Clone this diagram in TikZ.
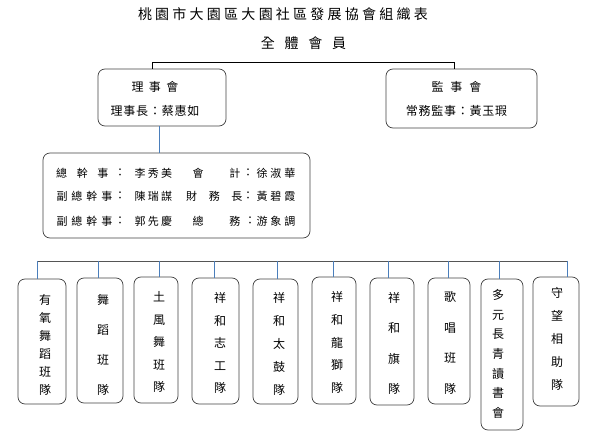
\documentclass[tikz,border=0pt]{standalone}
\usepackage{fontspec}
\setmainfont{Noto Sans CJK TC}
\makeatletter
\newcommand\spreadtxt[2]{\@tfor\spr@c:=#2\do{\spr@c\kern#1pt}\kern-#1pt}
\makeatother
\definecolor{conn}{HTML}{4A7EBB}
\definecolor{hl}{HTML}{555555}
\begin{document}
\begin{tikzpicture}[x=1pt,y=-1pt,
  box/.style={draw=black!75,line width=0.7pt,rounded corners=7pt,inner sep=0pt},
  vlab/.style={align=center,inner sep=0pt,font={\fontsize{12}{#1}\selectfont}},
  mtext/.style={inner sep=0pt,font={\fontsize{11}{13}\selectfont}},
  ttext/.style={inner sep=0pt,align=center,font={\fontsize{12}{24}\selectfont}},
  vline/.style={draw=conn,line width=0.7pt},
  hline/.style={draw=hl,line width=0.8pt},
  bline/.style={draw=black,line width=0.8pt}]
\useasboundingbox (0,0) rectangle (595,438);
% titles
\node[inner sep=0pt,font={\fontsize{14}{16}\selectfont}] (title) at (283,14) {\spreadtxt{3.25}{桃園市大園區大園社區發展協會組織表}};
\node[inner sep=0pt,font={\fontsize{14}{16}\selectfont}] (members) at (303.5,43) {\spreadtxt{9.7}{全體會員}};
% top boxes
\node[box,minimum width=128,minimum height=57] (lb) at (162,97.5) {};
\node[ttext] (lbt) at (155,99) {\spreadtxt{5.5}{理事會}\\\spreadtxt{0.8}{理事長：蔡惠如}};
\node[box,minimum width=151,minimum height=59] (rb) at (461.5,98.5) {};
\node[ttext] (rbt) at (456.5,99) {\spreadtxt{7}{監事會}\\\spreadtxt{0.75}{常務監事：黃玉瑕}};
\coordinate (tl) at (152,62);
\coordinate (tr) at (454,62);
\draw[bline] (tl |- lb.north) -- (tl) -- (tr) -- (tr |- rb.north);
% middle box
\node[box,minimum width=267,minimum height=85] (mid) at (176.5,195.5) {};
\coordinate (c1) at (159,0);
\draw[vline] (c1 |- lb.south) -- (c1 |- mid.north);
\node[mtext] (m11) at (82.3,173) {\spreadtxt{9.7}{總幹事}};
\node[mtext] (m12) at (120,173) {：};
\node[mtext] (m13) at (153.3,173) {\spreadtxt{2.3}{李秀美}};
\node[mtext] (m14) at (216.5,173) {\spreadtxt{26}{會計}};
\node[mtext] (m15) at (248,173) {：};
\node[mtext] (m16) at (276,173) {\spreadtxt{3}{徐淑華}};
\node[mtext] (m21) at (84.5,196) {\spreadtxt{4}{副總幹事}};
\node[mtext] (m22) at (120,196) {：};
\node[mtext] (m23) at (153.3,196) {\spreadtxt{2.3}{陳瑞謀}};
\node[mtext] (m24) at (214.3,196) {\spreadtxt{11.7}{財務長}};
\node[mtext] (m25) at (248,196) {：};
\node[mtext] (m26) at (276,196) {\spreadtxt{3}{黃碧霞}};
\node[mtext] (m31) at (84.5,221) {\spreadtxt{4}{副總幹事}};
\node[mtext] (m32) at (120,221) {：};
\node[mtext] (m33) at (153.3,221) {\spreadtxt{2.3}{郭先慶}};
\node[mtext] (m34) at (216.5,221) {\spreadtxt{26}{總務}};
\node[mtext] (m35) at (250,221) {：};
\node[mtext] (m36) at (276,221) {\spreadtxt{3}{游象調}};
% bottom boxes
\node[box,minimum width=48,minimum height=125] (b1) at (42,341.5) {};
\node[vlab=18] (t1) at (45,345) {有\\氧\\舞\\蹈\\班\\隊};
\node[box,minimum width=46,minimum height=125] (b2) at (100,340.5) {};
\node[vlab=30] (t2) at (103,344.5) {舞\\蹈\\班\\隊};
\node[box,minimum width=44,minimum height=126] (b3) at (156,340) {};
\node[vlab=22.5] (t3) at (159,342) {土\\風\\舞\\班\\隊};
\node[box,minimum width=47,minimum height=126] (b4) at (215.5,341) {};
\node[vlab=22.5] (t4) at (220,343) {祥\\和\\志\\工\\隊};
\node[box,minimum width=45,minimum height=125] (b5) at (275.5,341.5) {};
\node[vlab=23] (t5) at (279,344) {祥\\和\\太\\鼓\\隊};
\node[box,minimum width=44,minimum height=127] (b6) at (334,340.5) {};
\node[vlab=22.75] (t6) at (337,342.5) {祥\\和\\龍\\獅\\隊};
\node[box,minimum width=44,minimum height=127] (b7) at (392,341.5) {};
\node[vlab=30.3] (t7) at (394,343.5) {祥\\和\\旗\\隊};
\node[box,minimum width=42,minimum height=126] (b8) at (449,341) {};
\node[vlab=30.7] (t8) at (450,343) {歌\\唱\\班\\隊};
\node[box,minimum width=42,minimum height=151] (b9) at (502,354.5) {};
\node[vlab=19.7] (t9) at (498,354) {多\\元\\長\\青\\讀\\書\\會};
\node[box,minimum width=46,minimum height=129] (b10) at (556,341.5) {};
\node[vlab=23] (t10) at (557,339) {守\\望\\相\\助\\隊};
% connectors
\coordinate (h1) at (37,261);
\coordinate (h2) at (98,261);
\coordinate (h3) at (159,261);
\coordinate (h4) at (214,261);
\coordinate (h5) at (277,261);
\coordinate (h6) at (333,261);
\coordinate (h7) at (388,261);
\coordinate (h8) at (448,261);
\coordinate (h9) at (499,261);
\coordinate (h10) at (567,261);
\draw[hline] (h1) -- (h10);
\foreach \i in {1,...,10}{\draw[vline] (h\i) -- (h\i |- b\i.north);}
\end{tikzpicture}
\end{document}
